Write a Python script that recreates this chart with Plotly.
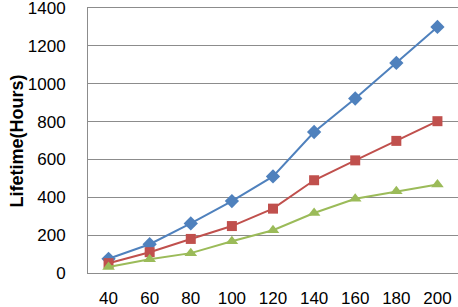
import plotly.graph_objects as go

categories = [40, 60, 80, 100, 120, 140, 160, 180, 200]
series_blue = [75, 152, 262, 380, 510, 745, 922, 1110, 1300]
series_red = [52, 110, 180, 248, 340, 490, 595, 698, 802]
series_green = [32, 73, 105, 168, 226, 317, 392, 432, 468]
y_ticks = [0, 200, 400, 600, 800, 1000, 1200, 1400]

x_labels = [str(c) for c in categories]

fig = go.Figure()
fig.add_trace(go.Scatter(x=x_labels, y=series_blue, mode="lines+markers",
                         line=dict(color="#4F81BD", width=2),
                         marker=dict(symbol="diamond", size=11, color="#4F81BD")))
fig.add_trace(go.Scatter(x=x_labels, y=series_red, mode="lines+markers",
                         line=dict(color="#C0504D", width=2),
                         marker=dict(symbol="square", size=10, color="#C0504D")))
fig.add_trace(go.Scatter(x=x_labels, y=series_green, mode="lines+markers",
                         line=dict(color="#9BBB59", width=2),
                         marker=dict(symbol="triangle-up", size=11, color="#9BBB59")))

font_family = "Liberation Sans, Arial, sans-serif"
fig.update_layout(
    width=458, height=307,
    margin=dict(l=88, r=0, t=8, b=34),
    paper_bgcolor="white", plot_bgcolor="white",
    showlegend=False,
    template="none",
    font=dict(family=font_family, size=17, color="black"),
    xaxis=dict(type="category", range=[-0.5, 8.5], showgrid=False,
               showline=True, mirror=True, linecolor="#8C8C8C", linewidth=1,
               zeroline=False, ticks="",
               ticklabelstandoff=10, automargin=False,
               tickfont=dict(size=17)),
    yaxis=dict(range=[0, 1400], tickvals=y_ticks, showgrid=True,
               gridcolor="#8C8C8C", gridwidth=1, zeroline=False,
               showline=True, linecolor="#8C8C8C", linewidth=1,
               ticks="", ticklabelstandoff=18, automargin=False,
               ticklabeloverflow="allow",
               tickfont=dict(size=17)),
    annotations=[dict(text="<b>Lifetime(Hours)</b>", textangle=-90,
                      xref="paper", yref="paper", x=-0.192, y=0.5,
                      xanchor="center", yanchor="middle", showarrow=False,
                      font=dict(size=18, family=font_family))],
)

fig.write_html("out.html", config={"displayModeBar": False},
               post_script="document.body.style.margin='0';")
